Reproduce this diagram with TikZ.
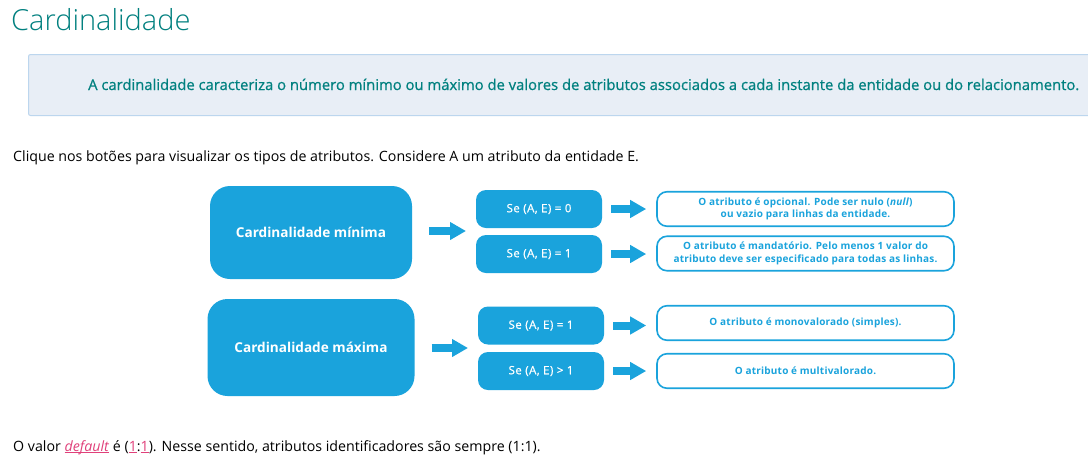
\documentclass[tikz,border=0pt]{standalone}
\usepackage{fontspec}
\setmainfont{Open Sans}
\newfontfamily\lightfont{Open Sans Light}
\newfontfamily\semifont[FakeBold=0.7]{Open Sans}
\usetikzlibrary{arrows.meta}
\definecolor{tealtxt}{HTML}{00807F}
\definecolor{cblue}{HTML}{1AA3DC}
\definecolor{infofill}{HTML}{E8EEF6}
\definecolor{infoborder}{HTML}{BCD6EE}
\definecolor{linkpink}{HTML}{E0407A}
\newcommand\myul[1]{\setbox0\hbox{#1}\rlap{\raisebox{-2.2pt}{\rule{\wd0}{0.8pt}}}\box0}
\begin{document}
\begin{tikzpicture}[x=1pt,y=-1pt,
  txt/.style={inner sep=0pt, anchor=base west},
  bigbox/.style={fill=cblue, rounded corners=20pt, text=white, font=\bfseries\fontsize{13.6}{16}\selectfont, inner sep=0pt},
  condbox/.style={fill=cblue, rounded corners=10pt, text=white, font=\semifont\fontsize{11.5}{13}\selectfont\addfontfeature{LetterSpace=4}, minimum width=126pt, minimum height=38pt, inner sep=0pt},
  resbox/.style={draw=cblue, line width=1.6pt, fill=white, rounded corners=10pt, text=cblue, font=\bfseries\fontsize{10}{12.5}\selectfont\addfontfeature{LetterSpace=2}, minimum width=297pt, minimum height=34.5pt, inner sep=0pt, align=center},
  bigarrow/.style={draw=cblue, line width=8pt, -{Triangle[length=16pt,width=17pt]}, shorten <=17pt, shorten >=10pt},
  smallarrow/.style={draw=cblue, line width=8pt, -{Triangle[length=16pt,width=17pt]}, shorten <=9pt, shorten >=10pt}
]
\useasboundingbox (0,0) rectangle (1088,475);
\fill[white] (0,0) rectangle (1088,475);

% title
\node[txt, text=tealtxt, font=\lightfont\fontsize{29}{33}\selectfont] (title) at (11,30) {Cardinalidade};

% info box
\draw[fill=infofill, draw=infoborder, line width=1pt, rounded corners=2pt] (28.5,54.5) rectangle (1100,115.5);
\node[txt, text=tealtxt, font=\semifont\fontsize{14.8}{17}\selectfont] (info) at (88,90) {A cardinalidade caracteriza o número mínimo ou máximo de valores de atributos associados a cada instante da entidade ou do relacionamento.};

% intro
\node[txt, font=\fontsize{14.2}{17}\selectfont] (intro) at (13,161) {Clique nos botões para visualizar os tipos de atributos. Considere A um atributo da entidade E.};

% big boxes
\node[bigbox, minimum width=202pt, minimum height=93pt] (cmin) at (311,232.5) {Cardinalidade mínima};
\node[bigbox, minimum width=207pt, minimum height=97pt] (cmax) at (311,347.5) {Cardinalidade máxima};

% condition boxes
\node[condbox] (s1) at (539,209) {Se (A, E) = 0};
\node[condbox] (s2) at (539,254) {Se (A, E) = 1};
\node[condbox] (s3) at (541,325.5) {Se (A, E) = 1};
\node[condbox] (s4) at (541,371) {Se (A, E) > 1};

% result boxes
\node[resbox] (r1) at (805.5,209) {O atributo é opcional. Pode ser nulo (\textit{null})\\ou vazio para linhas da entidade.};
\node[resbox] (r2) at (805.5,253.5) {O atributo é mandatório. Pelo menos 1 valor do\\atributo deve ser especificado para todas as linhas.};
\node[resbox] (r3) at (805.5,323) {O atributo é monovalorado (simples).};
\node[resbox] (r4) at (805.5,371) {O atributo é multivalorado.};

% arrows
\coordinate (pmin) at (476,231);
\coordinate (pmax) at (478,348);
\draw[bigarrow] (cmin.east |- pmin) -- (pmin);
\draw[bigarrow] (cmax.east |- pmax) -- (pmax);
\draw[smallarrow] (s1.east) -- (s1.east -| r1.west);
\draw[smallarrow] (s2.east) -- (s2.east -| r2.west);
\draw[smallarrow] (s3.east) -- (s3.east -| r3.west);
\draw[smallarrow] (s4.east) -- (s4.east -| r4.west);

% bottom
\node[txt, font=\fontsize{14.2}{17}\selectfont] (note) at (13,451) {O valor \textcolor{linkpink}{\myul{\textit{default}}} é (\textcolor{linkpink}{\myul{1}}:\textcolor{linkpink}{\myul{1}}). Nesse sentido, atributos identificadores são sempre (1:1).};
\end{tikzpicture}
\end{document}
